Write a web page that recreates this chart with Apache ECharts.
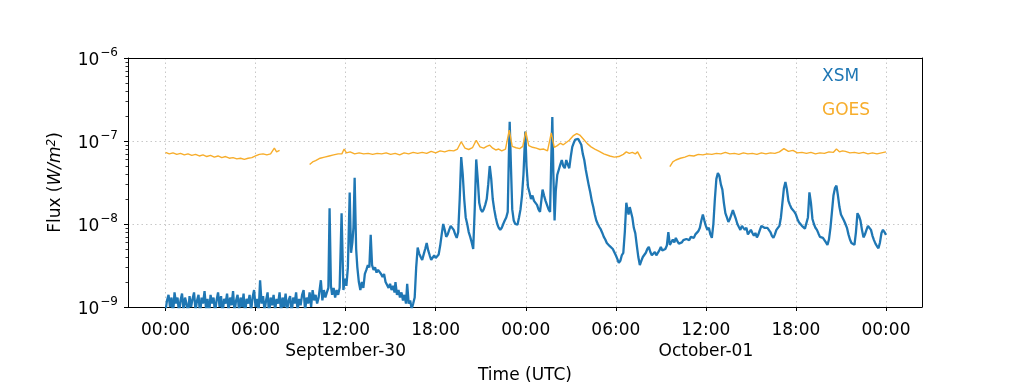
<!DOCTYPE html>
<html><head><meta charset="utf-8">
<script src="https://cdn.jsdelivr.net/npm/echarts@6/dist/echarts.min.js"></script>
<style>html,body{margin:0;padding:0;background:#fff}#c{width:1024px;height:384px}</style>
</head><body><div id="c"></div>
<script>
// Time origin: 2019-09-30 00:00 UTC; points are [hours from origin, flux]
const startUTC = Date.UTC(2019, 8, 30, 0, 0, 0);
const HOUR = 3600000;

// XSM flux in units of 1e-9 W/m^2
const xsmQuiet = [
  [0.0,0.9],[0.1,1.2],[0.2,1.4],[0.3,1.0],[0.4,1.3],[0.5,0.8],[0.6,1.5],[0.7,1.1],[0.8,1.3],[0.9,0.85],
  [1.0,1.2],[1.1,1.45],[1.2,0.9],[1.3,1.3],[1.4,1.1],[1.5,0.8],[1.6,1.35],[1.7,1.0],[1.8,1.25],[1.9,1.5],
  [2.0,0.9],[2.1,1.2],[2.2,1.4],[2.3,0.8],[2.4,1.3],[2.5,1.1],[2.6,1.55],[2.7,0.95],[2.8,1.25],[2.9,0.8],
  [3.0,1.4],[3.1,1.1],[3.2,1.3],[3.3,0.85],[3.4,1.2],[3.5,1.5],[3.6,1.0],[3.7,1.35],[3.8,0.8],[3.9,1.25],
  [4.0,1.1],[4.1,1.45],[4.2,0.9],[4.3,1.3],[4.4,1.05],[4.5,1.55],[4.6,0.85],[4.7,1.2],[4.8,1.4],[4.9,0.9],
  [5.0,1.3],[5.1,1.0],[5.2,1.45],[5.3,0.8],[5.4,1.25],[5.5,1.1],[5.6,1.4],[5.7,0.9],[5.8,1.3],[5.9,1.6],
  [6.0,1.0],[6.1,1.25],[6.2,0.85],[6.3,2.1],[6.4,1.1],[6.5,1.35],[6.6,0.9],[6.7,1.2],[6.8,1.5],[6.9,0.8],
  [7.0,1.3],[7.1,1.05],[7.2,1.4],[7.3,0.9],[7.4,1.25],[7.5,1.1],[7.6,1.5],[7.7,0.85],[7.8,1.3],[7.9,1.0],
  [8.0,1.45],[8.1,0.9],[8.2,1.2],[8.3,1.35],[8.4,0.8],[8.5,1.3],[8.6,1.1],[8.7,1.5],[8.8,0.9],[8.9,1.25],
  [9.0,1.05],[9.1,1.4],[9.2,1.6],[9.3,0.9],[9.4,1.3],[9.5,1.1],[9.6,1.5],[9.7,1.0],[9.8,1.6],[9.9,1.2],[10.0,1.4]
];
const xsmRise = [
  [10.1,1.1],[10.2,1.3],[10.35,2.1],[10.45,1.2],[10.55,1.6],[10.65,1.3],[10.75,1.5],[10.85,1.7],[10.93,15.5],[11.02,1.8],
  [11.1,1.4],[11.2,1.7],[11.3,1.3],[11.4,1.6],[11.5,1.4],[11.6,1.7],[11.73,13.5],[11.85,1.6],[11.95,2.2],[12.05,1.8],
  [12.15,3.0],[12.27,24],[12.36,4.5],[12.45,6],[12.52,9],[12.6,36],[12.7,5],[12.78,3],[12.88,2.0],[12.98,1.6],
  [13.08,2.0],[13.18,1.7],[13.28,2.5],[13.38,2.8],[13.48,3.2],[13.58,3.0],[13.67,7.4],[13.76,3.2],[13.86,2.8],[13.96,3.0],
  [14.06,2.6],[14.16,2.8],[14.26,2.9],[14.36,2.5],[14.46,2.3],[14.56,2.5],[14.66,2.0],[14.76,2.1],[14.86,1.7],[14.96,1.9],
  [15.06,1.6],[15.16,1.8],[15.26,1.5],[15.32,2.0],[15.42,1.4],[15.52,1.6],[15.62,1.3],[15.72,1.5],[15.82,1.2],[15.92,1.4],
  [16.02,1.1],[16.1,1.9],[16.2,1.1],[16.3,1.2],[16.4,0.95],[16.5,1.1],[16.6,1.3],[16.7,3.0],[16.8,5.2],[16.9,4.4],
  [17.0,4.0],[17.1,3.7],[17.2,4.3],[17.3,5.0],[17.4,5.9],[17.5,4.8],[17.6,4.2],[17.7,3.7],[17.8,3.9],[17.9,4.2],
  [18.0,3.9],[18.1,4.0],[18.2,4.3],[18.3,5.5],[18.4,7.5],[18.5,10],[18.6,8.5],[18.7,7],[18.8,7.5],[18.9,8.5],
  [19.0,9.5],[19.1,10],[19.2,8.5],[19.3,7.5],[19.4,6.8],[19.5,8],[19.6,20],[19.7,64],[19.8,40],[19.9,20],
  [20.0,12],[20.1,10],[20.2,8],[20.3,7],[20.4,6],[20.5,5],[20.6,15],[20.7,60],[20.8,35],[20.9,18],
  [21.0,15],[21.1,14],[21.2,15],[21.3,17],[21.4,20],[21.5,30],[21.6,50],[21.7,35],[21.8,20],[21.9,15],
  [22.0,12],[22.1,10],[22.2,9],[22.3,8.5],[22.4,9],[22.5,10],[22.6,11],[22.7,12],[22.8,14]
];
const xsmPeak = [
  [22.87,60],[22.93,170],[23.0,60],[23.1,15],[23.2,11],[23.3,10],[23.45,9.8],[23.55,12],[23.65,15],[23.75,22],
  [23.85,40],[23.97,130],[24.05,50],[24.15,28],[24.25,24],[24.35,20],[24.45,22],[24.55,19],[24.65,18],[24.75,17],
  [24.85,15],[24.95,14],[25.05,20],[25.12,26],[25.22,22],[25.32,19],[25.42,18],[25.52,15],[25.62,14],[25.7,60],
  [25.77,195],[25.84,40],[25.92,11],[26.0,25],[26.1,39],[26.2,45],[26.3,52],[26.4,59],[26.5,50],[26.6,47],
  [26.7,59],[26.8,52],[26.9,47],[27.0,65],[27.1,85],[27.2,95],[27.3,104],[27.4,108],[27.5,106],[27.6,103],
  [27.7,90],[27.8,70],[27.9,59],[28.0,45],[28.1,36],[28.2,29],[28.3,24],[28.4,19],[28.5,16],[28.6,13],
  [28.7,11],[28.8,10],[28.9,9.2],[29.0,8.6],[29.1,7.8],[29.2,7.0],[29.3,6.5],[29.4,5.9],[29.5,6.1],[29.6,5.4],
  [29.7,5.2],[29.8,5.0],[29.9,4.9],[30.0,4.2],[30.1,3.8],[30.2,3.4],[30.3,3.6],[30.4,4.2],[30.5,4.5]
];
const xsmDecay = [
  [30.6,8],[30.7,18],[30.78,15],[30.85,13],[30.93,16],[31.0,15.5],[31.1,12],[31.2,9],[31.3,7.7],[31.4,5.5],
  [31.5,4.0],[31.6,3.2],[31.7,3.6],[31.8,4.0],[31.9,3.8],[32.0,4.5],[32.1,5.0],[32.2,5.3],[32.3,4.6],[32.4,4.2],
  [32.5,4.0],[32.6,4.6],[32.7,4.2],[32.8,4.3],[32.9,4.8],[33.0,5.3],[33.1,4.8],[33.2,4.6],[33.3,5.0],[33.4,5.5],
  [33.5,8],[33.6,5.6],[33.7,5.9],[33.8,6.5],[33.9,6.0],[34.0,6.8],[34.1,6.2],[34.2,5.8],[34.3,5.6],[34.4,6.0],
  [34.5,6.4],[34.6,6.2],[34.7,6.6],[34.8,6.8],[34.9,6.4],[35.0,7.0],[35.1,7.2],[35.2,6.8],[35.3,7.5],[35.4,7.8],
  [35.5,8.2],[35.6,9],[35.7,11],[35.8,13],[35.9,11],[36.0,9.5],[36.1,8.5],[36.2,9],[36.3,7.5],[36.4,6.8],
  [36.5,10],[36.6,20],[36.7,35],[36.8,41],[36.9,38],[37.0,30],[37.1,26],[37.2,18],[37.3,13.5],[37.4,12],
  [37.5,10.6],[37.6,11.5],[37.7,13],[37.8,14.7],[37.9,13],[38.0,11.5],[38.1,10],[38.2,9.2],[38.3,8.5],[38.4,9.5],
  [38.5,10],[38.6,8.5],[38.7,9.0],[38.8,7.5],[38.9,8.0],[39.0,8.5],[39.1,7.8],[39.2,7.2],[39.3,7.8],[39.4,6.9],
  [39.5,7.5],[39.6,8.5],[39.7,9.5],[39.8,9.8],[39.9,9.0],[40.0,9.5],[40.1,9],[40.2,9.5],[40.3,8],[40.4,7.2],
  [40.5,6.8],[40.6,7.5],[40.7,8.5],[40.8,8.5],[40.9,9.5],[41.0,12],[41.1,18],[41.2,27],[41.3,32],[41.4,26],
  [41.5,19],[41.6,17],[41.7,15.5],[41.8,15],[41.9,14],[42.0,13],[42.1,11.5],[42.2,10.5],[42.3,10],[42.4,9.5],
  [42.5,9],[42.6,8.8],[42.7,8.5],[42.8,12],[42.9,24],[43.0,18],[43.1,11.5],[43.2,10],[43.3,9],[43.4,8.5],
  [43.5,7.7],[43.6,7.0],[43.7,7.2],[43.8,6.8],[43.9,6.5],[44.0,6.0],[44.1,5.6],[44.2,6.5],[44.3,9],[44.4,14],
  [44.5,22],[44.6,27],[44.7,29],[44.8,22],[44.9,16],[45.0,13],[45.1,12],[45.2,11],[45.3,10],[45.4,9],
  [45.5,7.5],[45.6,6.5],[45.7,5.9],[45.8,5.7],[45.9,5.6],[46.0,8],[46.1,13.5],[46.2,12.5],[46.3,11],[46.4,8.5],
  [46.5,6.9],[46.6,7.5],[46.7,8.5],[46.8,9.5],[46.9,10],[47.0,8.5],[47.1,7.2],[47.2,6.4],[47.3,5.8],[47.4,5.4],
  [47.5,5.1],[47.6,6.0],[47.7,7.8],[47.8,8.5],[47.9,8.0],[48.0,7.4]
];

// GOES flux in units of 1e-8 W/m^2, three segments separated by data gaps
const goesSeg1 = [
  [0.0,7.3],[0.25,7.0],[0.5,7.2],[0.75,6.9],[1.0,7.1],[1.25,6.8],[1.5,7.0],[1.75,6.7],[2.0,6.9],[2.25,6.6],
  [2.5,6.8],[2.75,6.5],[3.0,6.7],[3.25,6.4],[3.5,6.6],[3.75,6.3],[4.0,6.5],[4.25,6.2],[4.5,6.3],[4.75,6.1],
  [5.0,6.2],[5.25,6.0],[5.5,6.2],[5.75,6.3],[6.0,6.6],[6.25,6.9],[6.5,7.0],[6.75,6.8],[7.0,7.0],[7.25,8.2],
  [7.4,7.4],[7.6,7.7]
];
const goesSeg2 = [
  [9.6,5.2],[9.8,5.6],[10.0,5.8],[10.3,6.2],[10.6,6.4],[10.9,6.6],[11.2,6.8],[11.5,7.0],[11.75,7.0],[11.9,8.0],
  [12.05,7.2],[12.3,7.4],[12.6,7.0],[12.9,7.2],[13.2,7.0],[13.5,7.1],[13.8,6.9],[14.1,7.1],[14.4,7.0],[14.7,7.2],
  [15.0,6.9],[15.3,7.1],[15.6,6.8],[15.9,7.2],[16.2,7.0],[16.5,7.3],[16.8,7.1],[17.1,7.3],[17.4,7.1],[17.7,7.5],
  [18.0,7.2],[18.3,7.6],[18.6,7.4],[18.9,7.7],[19.2,7.6],[19.45,8.0],[19.7,9.8],[19.95,8.2],[20.2,7.9],[20.45,8.3],
  [20.7,10.2],[20.95,8.5],[21.2,8.2],[21.4,8.6],[21.6,8.9],[21.8,8.2],[22.0,7.8],[22.2,8.0],[22.4,7.6],[22.65,8.0],
  [22.9,13.5],[23.1,8.6],[23.35,8.3],[23.6,8.1],[23.8,8.6],[24.0,13.0],[24.2,8.8],[24.45,8.4],[24.7,8.2],[24.95,7.9],
  [25.2,8.0],[25.45,7.6],[25.7,12.5],[25.9,8.4],[26.1,8.8],[26.3,9.4],[26.5,9.0],[26.7,9.6],[26.9,10.2],[27.15,11.5],
  [27.4,12.3],[27.6,11.8],[27.85,10.5],[28.1,9.3],[28.35,8.5],[28.6,8.0],[28.9,7.5],[29.2,7.0],[29.6,6.6],[29.9,6.4],
  [30.2,6.5],[30.5,6.9],[30.7,7.4],[30.9,7.1],[31.1,7.3],[31.3,7.0],[31.45,7.4],[31.7,6.1]
];
const goesSeg3 = [
  [33.6,4.9],[33.8,5.6],[34.0,5.9],[34.3,6.2],[34.6,6.4],[34.9,6.7],[35.2,6.6],[35.5,6.9],[35.8,6.8],[36.1,7.0],
  [36.4,6.9],[36.7,7.1],[37.0,7.0],[37.3,7.3],[37.6,7.0],[37.9,7.1],[38.2,6.9],[38.5,7.2],[38.8,7.0],[39.1,7.1],
  [39.4,6.9],[39.7,7.2],[40.0,7.0],[40.3,7.2],[40.6,7.1],[40.9,7.4],[41.2,8.1],[41.5,7.5],[41.8,7.7],[42.1,7.2],
  [42.4,7.3],[42.7,7.1],[43.0,7.3],[43.3,7.0],[43.6,7.2],[43.9,7.1],[44.2,7.4],[44.5,7.3],[44.7,8.0],[44.9,7.4],
  [45.1,7.6],[45.3,7.5],[45.6,7.2],[45.9,7.3],[46.2,7.1],[46.5,7.3],[46.8,7.0],[47.1,7.2],[47.4,7.0],[47.7,7.2],[48.0,7.4]
];

const seriesNames = ['XSM', 'GOES'];
const monthNames = ['January','February','March','April','May','June','July','August','September','October','November','December'];
const yMinExp = -9, yMaxExp = -6;
const xAxisTitle = 'Time (UTC)';

const XSM_COLOR = '#1f77b4';
const GOES_COLOR = '#f7ad2b';
const FONT = 'DejaVu Sans';

const xMin = startUTC - 2.5 * HOUR;
const xMax = startUTC + 50.4 * HOUR;

function toPts(arr, unit) { return arr.map(p => [startUTC + p[0] * HOUR, p[1] * unit]); }
const xsmData = [].concat(toPts(xsmQuiet, 1e-9), toPts(xsmRise, 1e-9), toPts(xsmPeak, 1e-9), toPts(xsmDecay, 1e-9));
const goesData = [].concat(
  toPts(goesSeg1, 1e-8), [[startUTC + 8.5 * HOUR, null]],
  toPts(goesSeg2, 1e-8), [[startUTC + 32.5 * HOUR, null]],
  toPts(goesSeg3, 1e-8)
);

const minorTickData = [];
for (let e = yMinExp; e < yMaxExp; e++) {
  for (let m = 2; m <= 9; m++) minorTickData.push([xMin, m * Math.pow(10, e)]);
}

function pad2(n) { return (n < 10 ? '0' : '') + n; }

const frameAxisX = {
  type: 'time', min: xMin, max: xMax, position: 'top',
  axisLine: { show: true, onZero: false, lineStyle: { color: '#000', width: 1 } },
  axisTick: { show: false }, axisLabel: { show: false }, splitLine: { show: false }
};
const frameAxisY = {
  type: 'log', logBase: 10, min: Math.pow(10, yMinExp), max: Math.pow(10, yMaxExp), position: 'right',
  axisLine: { show: true, onZero: false, lineStyle: { color: '#000', width: 1 } },
  axisTick: { show: false }, axisLabel: { show: false }, splitLine: { show: false }
};

const chart = echarts.init(document.getElementById('c'), null, { renderer: 'canvas' });
chart.setOption({
  useUTC: true,
  animation: false,
  backgroundColor: '#fff',
  textStyle: { fontFamily: FONT },
  grid: { left: 128, right: 102, top: 58, bottom: 77, containLabel: false, outerBoundsMode: 'none', show: false },
  legend: {
    orient: 'vertical', left: 817, top: 68, padding: 0, itemGap: 16,
    itemWidth: 0, itemHeight: 18, icon: 'none', selectedMode: false,
    textStyle: { fontSize: 17, fontFamily: FONT, lineHeight: 18 },
    data: [
      { name: seriesNames[0], textStyle: { color: XSM_COLOR } },
      { name: seriesNames[1], textStyle: { color: GOES_COLOR } }
    ]
  },
  xAxis: [{
    type: 'time', min: xMin, max: xMax, position: 'bottom',
    splitNumber: 8, minInterval: 6.5 * HOUR, maxInterval: 8 * HOUR,
    name: xAxisTitle, nameLocation: 'middle', nameGap: 58,
    nameTextStyle: { fontSize: 17, color: '#000', fontFamily: FONT },
    axisLine: { show: true, onZero: false, lineStyle: { color: '#000', width: 1 } },
    axisTick: { show: true, length: 4, lineStyle: { color: '#000', width: 1 } },
    axisLabel: {
      show: true, showMinLabel: false, showMaxLabel: false, hideOverlap: false,
      margin: 13, color: '#000', fontSize: 17, fontFamily: FONT, lineHeight: 21,
      formatter: function (value) {
        const d = new Date(value);
        const s = pad2(d.getUTCHours()) + ':' + pad2(d.getUTCMinutes());
        if (d.getUTCHours() === 12 && d.getUTCMinutes() === 0) {
          return s + '\n' + monthNames[d.getUTCMonth()] + '-' + pad2(d.getUTCDate());
        }
        return s;
      }
    },
    splitLine: { show: true, showMinLine: false, showMaxLine: false, lineStyle: { color: '#c8c8c8', type: [1.5, 3], width: 1 } },
    minorTick: { show: false }
  }, frameAxisX],
  yAxis: [{
    type: 'log', logBase: 10, min: Math.pow(10, yMinExp), max: Math.pow(10, yMaxExp), position: 'left',
    name: '{n|Flux (}{i|W/m}{s|2}{n|)}', nameLocation: 'middle', nameGap: 62, nameRotate: 90,
    nameTextStyle: {
      color: '#000',
      rich: {
        n: { fontSize: 17, fontFamily: FONT, color: '#000' },
        i: { fontSize: 17, fontFamily: FONT, fontStyle: 'italic', color: '#000' },
        s: { fontSize: 12, fontFamily: FONT, fontStyle: 'italic', color: '#000', verticalAlign: 'top', padding: [0, 0, 8, 0] }
      }
    },
    axisLine: { show: true, onZero: false, lineStyle: { color: '#000', width: 1 } },
    axisTick: { show: true, length: 4, lineStyle: { color: '#000', width: 1 } },
    axisLabel: {
      margin: 10, color: '#000',
      formatter: function (v) {
        const e = Math.round(Math.log10(v));
        return '{b|10}{s|\u2212' + Math.abs(e) + '}';
      },
      rich: {
        b: { fontSize: 17, fontFamily: FONT, color: '#000', padding: [6, 0, 0, 0] },
        s: { fontSize: 12, fontFamily: FONT, color: '#000', verticalAlign: 'top', padding: [0, 0, 6, 1] }
      }
    },
    splitLine: { show: true, showMinLine: false, showMaxLine: false, lineStyle: { color: '#c8c8c8', type: [1.5, 3], width: 1 } }
  }, frameAxisY],
  series: [
    {
      name: seriesNames[0], type: 'line', data: xsmData, showSymbol: false, symbol: 'none',
      xAxisIndex: 0, yAxisIndex: 0,
      lineStyle: { color: XSM_COLOR, width: 2.3 }, itemStyle: { color: XSM_COLOR },
      clip: true, z: 3
    },
    {
      name: seriesNames[1], type: 'line', data: goesData, showSymbol: false, symbol: 'none', connectNulls: false,
      xAxisIndex: 0, yAxisIndex: 0,
      lineStyle: { color: GOES_COLOR, width: 1.4 }, itemStyle: { color: GOES_COLOR },
      clip: true, z: 4
    },
    {
      type: 'custom', silent: true, clip: false, z: 6, data: minorTickData,
      xAxisIndex: 0, yAxisIndex: 0,
      renderItem: function (params, api) {
        const p = api.coord([api.value(0), api.value(1)]);
        const y = Math.round(p[1]) + 0.5;
        return { type: 'line', shape: { x1: p[0] - 2.5, y1: y, x2: p[0], y2: y }, style: { stroke: '#000', lineWidth: 0.8 } };
      }
    }
  ]
});
</script>
</body></html>
